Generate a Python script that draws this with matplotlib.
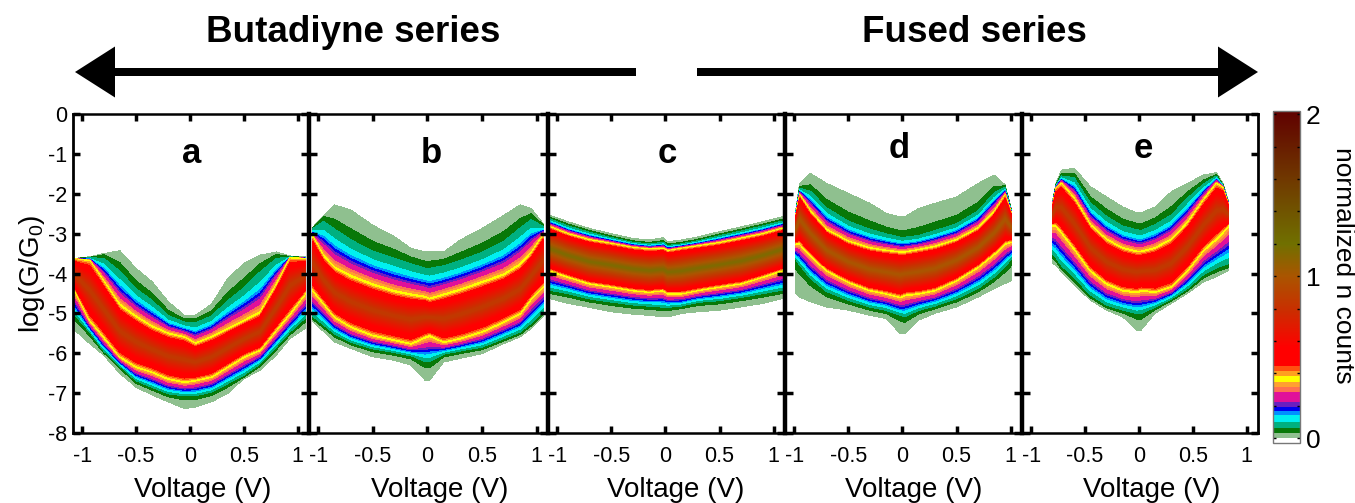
import numpy as np
import matplotlib
matplotlib.use("Agg")
import matplotlib.pyplot as plt
from matplotlib.cm import ScalarMappable
from matplotlib.colors import LinearSegmentedColormap, Normalize

plt.rcParams['font.family'] = ['Liberation Sans', 'DejaVu Sans']
plt.rcParams['mathtext.default'] = 'regular'
plt.rcParams['axes.unicode_minus'] = False

# edges, log(G/G0) at each voltage
# outer = white edge, green = dark green band, yellow = yellow ridge
v_a = [-1.07, -.93, -.8, -.65, -.5, -.35, -.2, -.05, .05, .2, .35, .5, .65, .8, .93, 1.07]
a_top_outer = [-3.62, -3.58, -3.5, -3.43, -3.87, -4.21, -4.71, -5.05, -5.05, -4.77, -4.13, -3.75, -3.54, -3.46, -3.56, -3.58]
a_top_green = [-3.62, -3.6, -3.54, -3.83, -4.29, -4.59, -5.0, -5.17, -5.17, -5.0, -4.59, -4.25, -3.83, -3.54, -3.58, -3.6]
a_top_yellow = [-3.63, -3.67, -4.2, -4.8, -5.09, -5.34, -5.51, -5.6, -5.76, -5.6, -5.4, -5.2, -5.0, -4.3, -3.6, -3.62]
a_bot_yellow = [-4.42, -5.17, -5.59, -6.09, -6.34, -6.47, -6.64, -6.72, -6.68, -6.59, -6.34, -6.09, -5.92, -5.42, -5.0, -4.5]
a_bot_green = [-5.09, -5.5, -5.97, -6.34, -6.72, -6.89, -7.05, -7.1, -7.1, -7.01, -6.8, -6.59, -6.3, -5.88, -5.5, -5.17]
a_bot_outer = [-5.42, -5.76, -6.05, -6.51, -6.85, -7.05, -7.22, -7.39, -7.35, -7.22, -7.01, -6.64, -6.43, -6.05, -5.63, -5.38]

v_b = [-1.05, -.95, -.85, -.7, -.5, -.3, -.15, -.02, .02, .15, .3, .5, .7, .85, .95, 1.06]
b_top_outer = [-2.84, -2.54, -2.28, -2.41, -2.79, -3.08, -3.37, -3.46, -3.46, -3.46, -3.16, -2.87, -2.54, -2.28, -2.37, -2.74]
b_top_green = [-2.85, -2.58, -2.76, -3.04, -3.33, -3.51, -3.66, -3.77, -3.77, -3.71, -3.58, -3.37, -3.08, -2.74, -2.54, -2.79]
b_top_yellow = [-3.08, -3.58, -3.87, -4.08, -4.29, -4.46, -4.54, -4.6, -4.65, -4.54, -4.42, -4.23, -4.04, -3.79, -3.5, -3.04]
b_bot_yellow = [-4.42, -4.75, -5.09, -5.34, -5.55, -5.67, -5.76, -5.59, -5.55, -5.72, -5.63, -5.46, -5.21, -5.0, -4.63, -4.33]
b_bot_green = [-5.13, -5.34, -5.55, -5.76, -5.92, -6.01, -6.09, -6.26, -6.26, -6.05, -5.97, -5.88, -5.67, -5.51, -5.3, -5.0]
b_bot_outer = [-5.21, -5.46, -5.72, -5.88, -6.09, -6.18, -6.3, -6.68, -6.68, -6.22, -6.13, -6.01, -5.76, -5.59, -5.38, -5.09]

v_c = [-1.07, -.9, -.7, -.5, -.3, -.15, -.02, .02, .15, .3, .5, .7, .9, 1.08]
c_top_outer = [-2.54, -2.7, -2.87, -3.0, -3.12, -3.16, -3.1, -3.2, -3.16, -3.08, -2.95, -2.83, -2.7, -2.58]
c_top_green = [-2.6, -2.78, -2.94, -3.08, -3.2, -3.24, -3.2, -3.28, -3.24, -3.16, -3.03, -2.91, -2.78, -2.66]
c_top_yellow = [-2.83, -3.01, -3.16, -3.25, -3.35, -3.39, -3.37, -3.43, -3.37, -3.31, -3.23, -3.12, -3.01, -2.87]
c_bot_yellow = [-3.92, -4.08, -4.25, -4.33, -4.42, -4.46, -4.42, -4.5, -4.5, -4.42, -4.33, -4.25, -4.08, -3.92]
c_bot_green = [-4.46, -4.54, -4.67, -4.75, -4.82, -4.85, -4.88, -4.88, -4.84, -4.75, -4.71, -4.63, -4.54, -4.46]
c_bot_outer = [-4.63, -4.75, -4.85, -4.96, -5.02, -5.05, -5.09, -5.09, -5.0, -4.96, -4.92, -4.84, -4.75, -4.63]

v_d = [-.99, -.95, -.85, -.7, -.5, -.3, -.15, -.02, .02, .15, .3, .5, .7, .85, .95, 1.01]
d_top_outer = [-2.49, -1.74, -1.49, -1.74, -1.99, -2.24, -2.49, -2.58, -2.58, -2.37, -2.24, -2.08, -1.74, -1.53, -1.78, -2.41]
d_top_green = [-2.53, -1.84, -1.87, -2.28, -2.62, -2.83, -2.95, -3.04, -3.04, -3.0, -2.87, -2.7, -2.37, -1.91, -1.81, -2.45]
d_top_yellow = [-2.58, -2.03, -2.45, -2.91, -3.2, -3.37, -3.43, -3.47, -3.47, -3.41, -3.33, -3.16, -2.87, -2.45, -2.03, -2.5]
d_bot_yellow = [-3.25, -3.25, -3.54, -3.92, -4.21, -4.42, -4.5, -4.59, -4.54, -4.5, -4.42, -4.17, -3.83, -3.5, -3.25, -3.2]
d_bot_green = [-3.67, -3.83, -4.17, -4.5, -4.71, -4.88, -4.96, -5.09, -5.13, -4.96, -4.85, -4.67, -4.42, -4.13, -3.87, -3.67]
d_bot_outer = [-4.5, -4.59, -4.71, -4.84, -4.92, -5.05, -5.13, -5.51, -5.51, -5.17, -5.0, -4.84, -4.59, -4.38, -4.25, -4.17]

v_e = [-.8, -.77, -.72, -.6, -.45, -.3, -.15, -.02, .02, .15, .3, .45, .6, .72, .78, .83]
e_top_outer = [-2.16, -1.74, -1.41, -1.36, -1.82, -2.08, -2.33, -2.48, -2.48, -2.33, -1.95, -1.74, -1.53, -1.47, -1.74, -2.16]
e_top_green = [-2.2, -1.78, -1.53, -1.53, -2.16, -2.49, -2.74, -2.83, -2.85, -2.7, -2.45, -2.03, -1.7, -1.53, -1.78, -2.2]
e_top_yellow = [-2.24, -1.87, -1.74, -2.12, -2.79, -3.16, -3.37, -3.46, -3.46, -3.37, -3.16, -2.74, -2.16, -1.74, -1.84, -2.24]
e_bot_yellow = [-2.79, -2.79, -2.95, -3.37, -3.92, -4.25, -4.42, -4.46, -4.42, -4.46, -4.33, -3.92, -3.41, -3.12, -2.95, -2.79]
e_bot_green = [-3.58, -3.67, -3.87, -4.17, -4.59, -4.84, -4.96, -5.05, -5.05, -4.88, -4.67, -4.42, -4.08, -3.92, -3.87, -3.83]
e_bot_outer = [-3.75, -3.79, -3.96, -4.29, -4.67, -4.92, -5.09, -5.42, -5.42, -5.0, -4.75, -4.5, -4.21, -4.08, -4.0, -3.92]

letters = ['a', 'b', 'c', 'd', 'e']
peak_counts = [0.85, 0.85, 1.15, 1.0, 0.85]
# counts at outer edge, dark green, cyan, yellow ridge
edge_counts = [0, .04, .12, .365]

# colour bands of the bar
band_edges = [0, .03, .06, .10, .14, .165, .195, .225, .285, .315, .345, .385, .415, .445]
band_colors = ['#8fc08f', '#087808', '#00b080', '#00f0f0', '#0090ff', '#0000f0', '#6a1fc0',
               '#e0109a', '#ff7050', '#ffa030', '#ffff00', '#ffa020', '#ff5010']
ramp_values = [.445, .56, .8, 1.0, 1.2, 1.6, 2.02]
ramp_colors = ['#ff0000', '#ff0000', '#c83000', '#aa5500', '#707000', '#703800', '#600000']

VMIN, VMAX = -0.03, 2.02
stops = [(0, 'white'), ((0 - VMIN) / (VMAX - VMIN), 'white')]
for i, c in enumerate(band_colors):
    stops.append(((band_edges[i] - VMIN) / (VMAX - VMIN), c))
    stops.append(((band_edges[i + 1] - VMIN) / (VMAX - VMIN), c))
for val, c in zip(ramp_values, ramp_colors):
    stops.append(((val - VMIN) / (VMAX - VMIN), c))
cmap = LinearSegmentedColormap.from_list('counts', stops, N=2048)
norm = Normalize(VMIN, VMAX)
levels = np.arange(0, 2.01, 0.01)

W, H = 1355, 503
fig = plt.figure(figsize=(W / 100, H / 100), dpi=100)

# overlay for the two arrows and headings, in pixels
over = fig.add_axes([0, 0, 1, 1], zorder=5)
over.set_xlim(0, W)
over.set_ylim(H, 0)
over.axis('off')
over.arrow(636, 72, -561, 0, width=8, head_width=51, head_length=40,
           length_includes_head=True, color='k', lw=0)
over.arrow(697, 72, 561, 0, width=8, head_width=51, head_length=40,
           length_includes_head=True, color='k', lw=0)
over.text(353, 32, 'Butadiyne series', fontsize=26.5, fontweight='bold', ha='center', va='center')
over.text(974, 32, 'Fused series', fontsize=26.5, fontweight='bold', ha='center', va='center')

panel_px = [(73, 309), (309, 548), (548, 785), (785, 1022), (1022, 1258)]
xlabel_px = [203, 440, 676, 914, 1152]
letter_x = [0.02, 0.04, 0.02, -0.03, 0.04]
letter_y = [-1.0, -1.0, -1.0, -0.87, -0.87]
panels = [
    (v_a, a_bot_outer, a_bot_green, a_bot_yellow, a_top_yellow, a_top_green, a_top_outer),
    (v_b, b_bot_outer, b_bot_green, b_bot_yellow, b_top_yellow, b_top_green, b_top_outer),
    (v_c, c_bot_outer, c_bot_green, c_bot_yellow, c_top_yellow, c_top_green, c_top_outer),
    (v_d, d_bot_outer, d_bot_green, d_bot_yellow, d_top_yellow, d_top_green, d_top_outer),
    (v_e, e_bot_outer, e_bot_green, e_bot_yellow, e_top_yellow, e_top_green, e_top_outer),
]
ytop, ybot = 114, 433

for i, p in enumerate(panels):
    l, r = panel_px[i]
    ax = fig.add_axes([l / W, 1 - ybot / H, (r - l) / W, (ybot - ytop) / H], zorder=1 + i)
    ax.patch.set_alpha(0)
    v = np.array(p[0])
    bo, bg, by, ty, tg, to = [np.array(e) for e in p[1:]]
    mid = (by + ty) / 2
    # cyan sits closer to the green band on the lower side
    bc = by + 0.7 * (bg - by)
    tc = ty + 0.55 * (tg - ty)
    Y = np.vstack([bo, bg, bc, by, mid, ty, tc, tg, to])
    X = np.tile(v, (9, 1))
    rows = edge_counts + [peak_counts[i]] + edge_counts[::-1]
    Z = np.tile(np.array(rows)[:, None], (1, len(v)))
    ax.contourf(X, Y, Z, levels=levels, cmap=cmap, norm=norm)

    ax.set_xlim(-1.085, 1.105)
    ax.set_ylim(-8, 0)
    ax.set_xticks([-1, -0.5, 0, 0.5, 1])
    ax.set_xticklabels(['-1', '-0.5', '0', '0.5', '1'])
    ax.set_yticks(range(-8, 1))
    ax.tick_params(axis='x', which='major', top=True, direction='in', length=5, width=2.5,
                   labelsize=15.5, pad=9)
    ax.set_xlabel('Voltage (V)', fontsize=20, va='center')
    ax.xaxis.set_label_coords((xlabel_px[i] - l) / (r - l), -0.178)
    ax.spines['top'].set_linewidth(1.8)
    ax.spines['bottom'].set_linewidth(1.8)
    ax.spines['right'].set_visible(False)
    if i == 0:
        ax.spines['left'].set_linewidth(2)
        ax.tick_params(axis='y', direction='in', length=5, width=2.5, labelsize=15.5, pad=4)
        ax.set_ylabel('log(G/G$_0$)', fontsize=20, labelpad=1)
    else:
        ax.spines['left'].set_linewidth(3.2)
        ax.tick_params(axis='y', direction='inout', length=11, width=2.5, labelleft=False)
    if i == len(panels) - 1:
        sec = ax.secondary_yaxis('right')
        sec.set_yticks(range(-8, 1))
        sec.tick_params(direction='in', length=5, width=2.5, labelright=False)
        sec.spines['right'].set_linewidth(2)
    ax.text(letter_x[i], letter_y[i], letters[i], fontsize=25, fontweight='bold', ha='center', va='center')

cax = fig.add_axes([1273 / W, 1 - 443 / H, 27 / W, 332 / H], zorder=10)
cb = fig.colorbar(ScalarMappable(norm=norm, cmap=cmap), cax=cax)
cb.set_ticks([0, 1, 2])
cb.set_ticks(np.arange(0.2, 2, 0.2), minor=True)
cb.ax.tick_params(which='both', direction='in', left=True, right=True, length=2, width=1)
cb.ax.tick_params(which='major', labelsize=19, pad=4)
cb.outline.set_edgecolor('#777777')
cb.outline.set_linewidth(1)
cb.set_label('normalized n counts', fontsize=19, rotation=270, va='center')
cb.ax.yaxis.set_label_coords(2.59, 0.536)

fig.savefig('out.png', dpi=100)
